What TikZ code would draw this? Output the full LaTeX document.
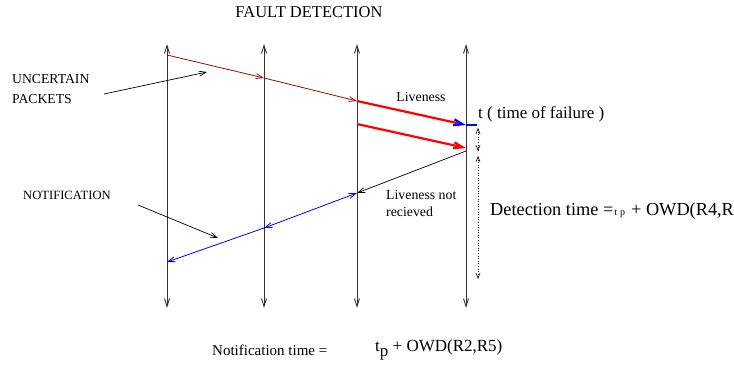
\documentclass[tikz,border=0pt]{standalone}
\usepackage{fontspec}
\setmainfont{Liberation Serif}
\usetikzlibrary{arrows.meta}
\newcommand{\pxsize}[2]{\fontsize{#1bp}{#2bp}\selectfont}
\definecolor{pktred}{rgb}{0.58,0.06,0.06}
\tikzset{
  barb/.style={-{Straight Barb[length=7bp,width=5bp]}},
  timeline/.style={draw=black!80, line width=.9bp,
    {Straight Barb[length=8bp,width=5bp]}-{Straight Barb[length=8bp,width=5bp]}},
  lbl/.style={inner sep=0pt, anchor=west},
  gap/.style={dotted, line width=.6bp,
    {Straight Barb[length=5bp,width=4bp]}-{Straight Barb[length=5bp,width=4bp]}}
}
\begin{document}
\begin{tikzpicture}[x=1bp, y=-1bp]
  \useasboundingbox (0,0) rectangle (734,369);
  % the four routers
  \foreach \n/\x in {a/167, b/264, c/357, d/466} {
    \coordinate (\n top) at (\x,44); \coordinate (\n bot) at (\x,308);
    \draw[timeline] (\n bot) -- (\n top);
  }
  % packets
  \coordinate (p1) at (167,55); \coordinate (p2) at (264,78);
  \coordinate (p3) at (357,101); \coordinate (p4) at (466,125);
  \coordinate (q1) at (357,124); \coordinate (q2) at (466,148);
  \coordinate (q3) at (477,125);
  \draw[barb, pktred, line width=.8bp] (p1) -- (p2);
  \draw[barb, pktred, line width=.8bp] (p2) -- (p3);
  \draw[red, line width=2.2bp, -{Straight Barb[length=9bp,width=6bp,blue]}] (p3) -- (p4);
  \draw[red, line width=2.2bp, -{Straight Barb[length=9bp,width=6bp]}] (q1) -- (q2);
  \draw[blue, line width=2bp] (p4) -- (q3);
  % notification
  \coordinate (n1) at (466,151); \coordinate (n2) at (357,193);
  \coordinate (n3) at (264,228); \coordinate (n4) at (167,262);
  \draw[barb, line width=.7bp] (n1) -- (n2);
  \draw[blue, line width=.8bp, {Straight Barb[length=7bp,width=5bp]}-{Straight Barb[length=7bp,width=5bp]}] (n2) -- (n3);
  \draw[barb, blue, line width=.8bp] (n3) -- (n4);
  % time gaps
  \coordinate (g1) at (478,128); \coordinate (g2) at (478,151);
  \coordinate (g3) at (478,156); \coordinate (g4) at (478,279);
  \draw[gap] (g1) -- (g2);
  \draw[gap] (g3) -- (g4);
  % labels
  \node[inner sep=0pt, font=\pxsize{16.5}{19}] (title) at (309,12) {FAULT DETECTION};
  \node[lbl, align=left, font=\pxsize{13.7}{20}] (unc) at (12,89) {UNCERTAIN\\PACKETS};
  \node[lbl, font=\pxsize{12.6}{15}] (notif) at (23,195) {NOTIFICATION};
  \node[inner sep=0pt, font=\pxsize{13.8}{16}] (live) at (421,97) {Liveness};
  \node[lbl, font=\pxsize{17}{20}] (fail) at (478,114) {t ( time of failure )};
  \node[lbl, align=left, font=\pxsize{13.8}{17}] (lost) at (386,203) {Liveness not\\recieved};
  \node[lbl, font=\pxsize{18.3}{21}] (detect) at (490,211)
    {Detection time =\hspace{1bp}{\pxsize{10}{10}t\hspace{3bp}p}\hspace{6bp}+ OWD(R4,R5)};
  \node[lbl, font=\pxsize{15}{18}] (ntime) at (212,350) {Notification time =};
  \node[lbl, font=\pxsize{17}{20}] (tp) at (375,350) {t\raisebox{-5bp}{p} + OWD(R2,R5)};
  % pointers
  \coordinate (u1) at (104,94); \coordinate (u2) at (207,72);
  \coordinate (v1) at (138,205); \coordinate (v2) at (218,238);
  \draw[barb, line width=.7bp] (u1) -- (u2);
  \draw[barb, line width=.7bp] (v1) -- (v2);
\end{tikzpicture}
\end{document}
